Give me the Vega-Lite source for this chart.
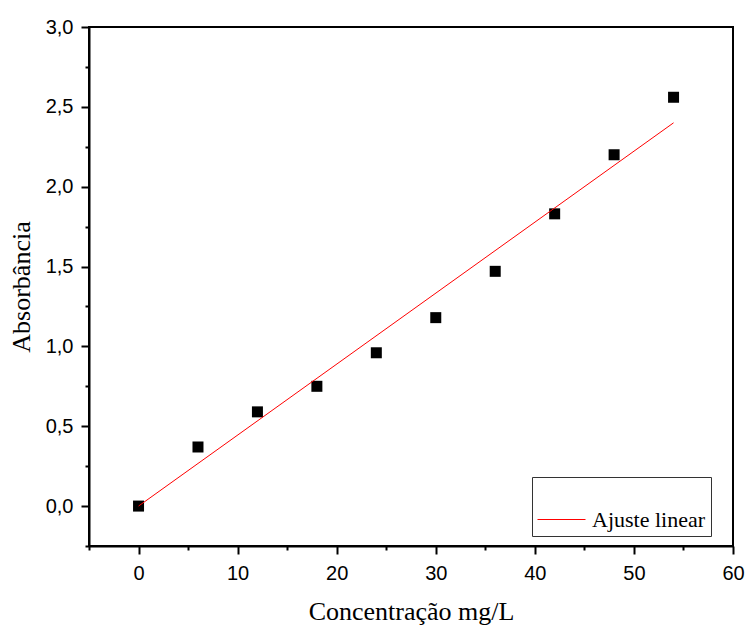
{
  "$schema": "https://vega.github.io/schema/vega-lite/v6.json",
  "width": 644,
  "height": 519,
  "autosize": {"type": "none"},
  "padding": {"left": 89, "top": 27, "right": 12, "bottom": 79},
  "background": "white",
  "config": {
    "view": {"stroke": "black", "strokeWidth": 2},
    "axis": {
      "grid": false,
      "domainColor": "black",
      "domainWidth": 2,
      "tickColor": "black",
      "tickWidth": 2,
      "labelFont": "Liberation Sans",
      "labelFontSize": 20,
      "labelColor": "black",
      "labelFlush": false,
      "labelOverlap": false,
      "labelBound": false,
      "titleFont": "Liberation Serif",
      "titleFontSize": 26,
      "titleFontWeight": "normal",
      "titleColor": "black"
    }
  },
  "resolve": {"axis": {"x": "independent", "y": "independent"}},
  "layer": [
    {
      "data": {"values": [
        {"c": 0, "a": 0.0},
        {"c": 6, "a": 0.37},
        {"c": 12, "a": 0.59},
        {"c": 18, "a": 0.75},
        {"c": 24, "a": 0.96},
        {"c": 30, "a": 1.18},
        {"c": 36, "a": 1.47},
        {"c": 42, "a": 1.83},
        {"c": 48, "a": 2.20},
        {"c": 54, "a": 2.56}
      ]},
      "mark": {"type": "square", "size": 121, "filled": true, "color": "black", "opacity": 1},
      "encoding": {
        "x": {
          "field": "c", "type": "quantitative",
          "scale": {"domain": [-5, 60], "nice": false, "zero": false},
          "axis": {
            "orient": "bottom",
            "title": "Concentração mg/L",
            "values": [0, 10, 20, 30, 40, 50, 60],
            "format": "d",
            "tickSize": 8,
            "labelPadding": 9,
            "titlePadding": 15
          }
        },
        "y": {
          "field": "a", "type": "quantitative",
          "scale": {"domain": [-0.25, 3.0], "nice": false, "zero": false},
          "axis": {
            "orient": "left",
            "title": "Absorbância",
            "values": [0, 0.5, 1.0, 1.5, 2.0, 2.5, 3.0],
            "labelExpr": "replace(format(datum.value, '.1f'), '.', ',')",
            "tickSize": 8,
            "labelPadding": 8,
            "titlePadding": 11
          }
        }
      }
    },
    {
      "data": {"values": [
        {"c": 0, "fit": 0.0, "serie": "Ajuste linear"},
        {"c": 54, "fit": 2.40, "serie": "Ajuste linear"}
      ]},
      "mark": {"type": "line", "strokeWidth": 1},
      "encoding": {
        "x": {
          "field": "c", "type": "quantitative",
          "axis": {
            "orient": "bottom",
            "title": null,
            "values": [-5, 5, 15, 25, 35, 45, 55],
            "labels": false,
            "domain": false,
            "tickSize": 4
          }
        },
        "y": {
          "field": "fit", "type": "quantitative",
          "axis": {
            "orient": "left",
            "title": null,
            "values": [-0.25, 0.25, 0.75, 1.25, 1.75, 2.25, 2.75],
            "labels": false,
            "domain": false,
            "tickSize": 4
          }
        },
        "color": {
          "field": "serie", "type": "nominal",
          "scale": {"range": ["#ff0000"]},
          "legend": {
            "title": " ",
            "titleFontSize": 10,
            "titlePadding": 3,
            "orient": "none",
            "legendX": 443,
            "legendY": 450,
            "padding": 5,
            "strokeColor": "#333333",
            "fillColor": "white",
            "symbolType": "stroke",
            "symbolSize": 2304,
            "symbolStrokeWidth": 1,
            "labelFont": "Liberation Serif",
            "labelFontSize": 22,
            "labelColor": "black",
            "labelOffset": 6
          }
        }
      }
    }
  ]
}
